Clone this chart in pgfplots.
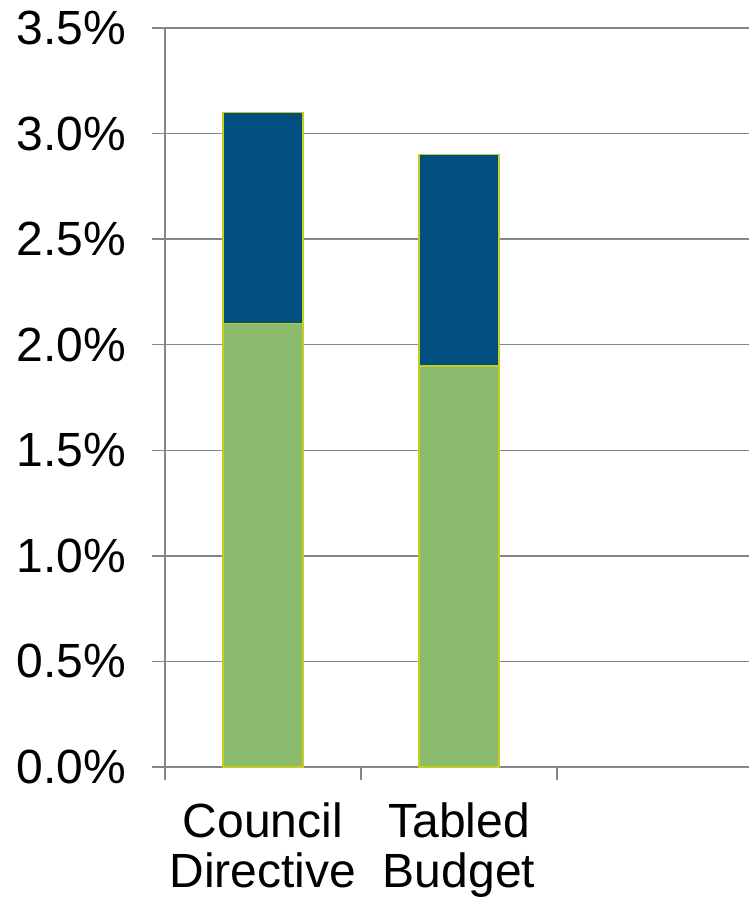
\documentclass[border=0pt]{standalone}
\usepackage{pgfplots}
\pgfplotsset{compat=1.18}
\usepackage{fontspec}
\setmainfont{Liberation Sans}
\definecolor{gbar}{RGB}{141,187,110}
\definecolor{bbar}{RGB}{0,79,128}
\definecolor{edge}{RGB}{196,206,30}
\definecolor{gridc}{RGB}{134,134,134}
\begin{document}
\begin{tikzpicture}
\path[use as bounding box] (-165bp,-136bp) rectangle (584bp,767bp);
\begin{axis}[
  at={(0,0)}, anchor=south west,
  scale only axis, width=588bp, height=739bp,
  ybar stacked, bar width=80bp,
  xmin=-0.5, xmax=2.5, ymin=0, ymax=3.5,
  axis x line*=bottom, axis y line*=left,
  axis line style={draw=gridc, line width=1.3bp, -},
  ytick={0,0.5,1,1.5,2,2.5,3,3.5},
  ymajorgrids, grid style={draw=gridc, line width=1.3bp},
  tick align=outside, major tick length=13bp,
  tick style={draw=gridc, line width=1.3bp},
  /pgf/number format/assume math mode=true,
  yticklabel={\pgfmathprintnumber[fixed,fixed zerofill,precision=1]{\tick}\%},
  tick label style={font=\fontsize{48bp}{50bp}\selectfont, text=black},
  yticklabel style={inner sep=0pt, xshift=-26bp},
  xtick={0,1},
  xticklabels={{Council\\Directive},{Tabled\\Budget}},
  xticklabel style={align=center, yshift=-19bp},
  major x tick style={draw=none},
  extra x ticks={-0.5,0.5,1.5},
  extra x tick labels={},
  extra x tick style={grid=none, major x tick style={draw=gridc, line width=1.3bp}},
]
\addplot[fill=gbar, draw=edge, line width=1.5bp] coordinates {(0,2.1) (1,1.9)};
\addplot[fill=bbar, draw=edge, line width=1.5bp] coordinates {(0,1.0) (1,1.0)};
\end{axis}
\end{tikzpicture}
\end{document}
